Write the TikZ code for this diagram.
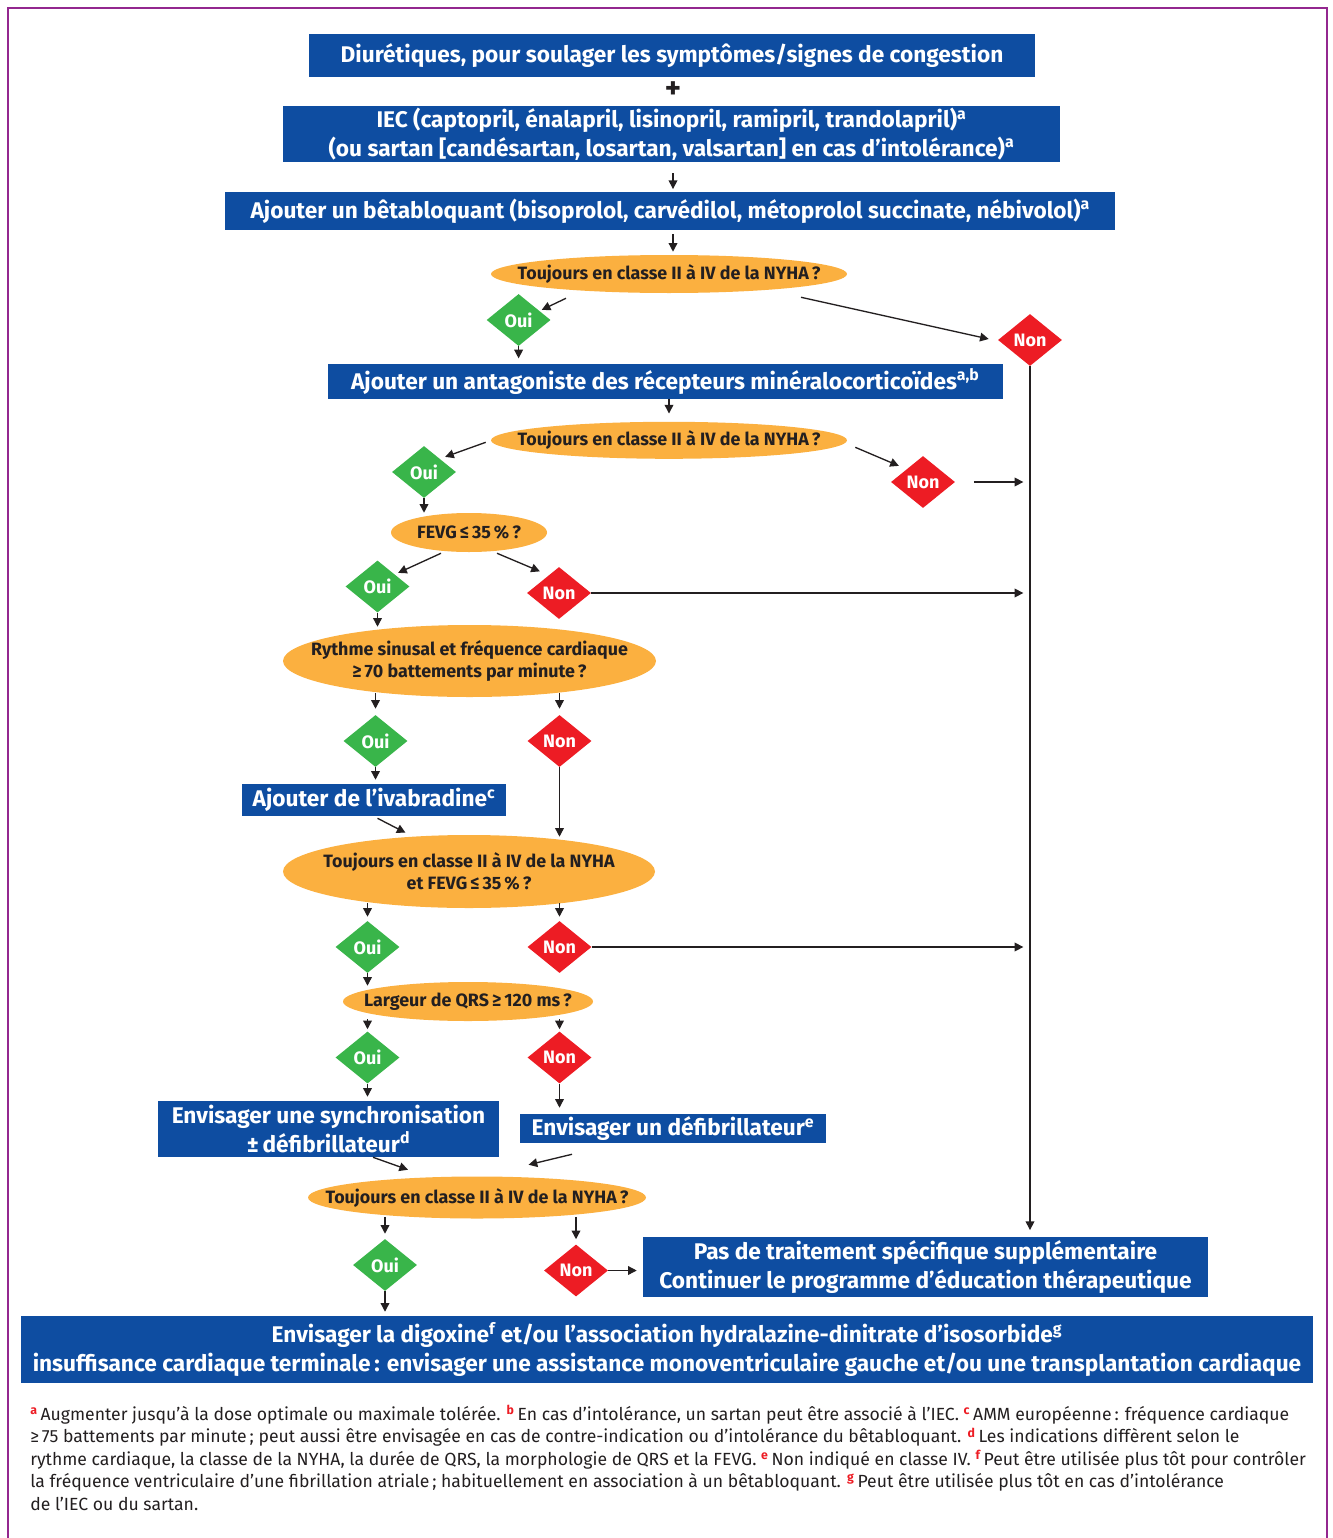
\documentclass[tikz,border=0pt]{standalone}
\usepackage{fontspec}
\setmainfont{Fira Sans}
\usetikzlibrary{shapes.geometric,arrows.meta,calc}

\definecolor{cBlue}{HTML}{0E4DA1}
\definecolor{cOrange}{HTML}{FBB040}
\definecolor{cGreen}{HTML}{39B54A}
\definecolor{cRed}{HTML}{ED1C24}
\definecolor{cInk}{HTML}{231F20}
\definecolor{cFrame}{HTML}{93278F}

\newcommand\boxfont{\fontsize{17}{21.5}\selectfont\bfseries}
\newcommand\qfont{\fontsize{13.4}{16.8}\selectfont\bfseries}
\newcommand\ynfont{\fontsize{13.5}{14}\selectfont\bfseries}
\newcommand\notefont{\fontsize{13.2}{16.8}\selectfont}
\newcommand\fnm[1]{\textcolor{cRed}{\textsuperscript{\bfseries #1}}}

\tikzset{
  stepbox/.style={rectangle, fill=cBlue, text=white, font=\boxfont, inner sep=0pt, align=center},
  question/.style={ellipse, fill=cOrange, inner sep=0pt},
  qtext/.style={text=cInk, font=\qfont, inner sep=0pt, align=center},
  yesdia/.style={diamond, fill=cGreen, text=white, font=\ynfont, inner sep=0pt, aspect=1.2,
                 minimum width=48pt, minimum height=39pt},
  nodia/.style={diamond, fill=cRed, text=white, font=\ynfont, inner sep=0pt, aspect=1.2,
                minimum width=48pt, minimum height=39pt},
  arr/.style={draw=cInk, line width=1pt, -{Triangle[length=6.5pt,width=6.5pt]}},
}

\begin{document}
\begin{tikzpicture}[x=0.75pt,y=-0.75pt]
\useasboundingbox (0,0) rectangle (1332,1538);
% open frame
\draw[cFrame, line width=1.6pt] (8,1538) -- (8,8) -- (1327,8) -- (1327,1538);

% treatment steps
\node[stepbox, minimum width=544.5pt, minimum height=32.25pt] (b1) at (672,55.5)
  {Diurétiques, pour soulager les symptômes/signes de congestion};
\node[font=\fontsize{23}{23}\selectfont\bfseries, text=cInk, inner sep=0pt] (plus) at (673,90.5) {+};
\node[stepbox, minimum width=582.75pt, minimum height=42pt] (b2) at (671.5,134)
  {IEC (captopril, énalapril, lisinopril, ramipril, trandolapril)\textsuperscript{a}\\
   (ou sartan [candésartan, losartan, valsartan] en cas d’intolérance)\textsuperscript{a}};
\node[stepbox, minimum width=667.5pt, minimum height=28.5pt] (b3) at (670.3,211)
  {Ajouter un bêtabloquant (bisoprolol, carvédilol, métoprolol succinate, nébivolol)\textsuperscript{a}};
\node[stepbox, minimum width=506.25pt, minimum height=26.25pt] (b4) at (665.3,381.5)
  {Ajouter un antagoniste des récepteurs minéralocorticoïdes\textsuperscript{a,b}};
\node[stepbox, minimum width=198pt, minimum height=24pt] (b5) at (374,800)
  {Ajouter de l’ivabradine\textsuperscript{c}};
\node[stepbox, minimum width=255.75pt, minimum height=42pt] (b6) at (328.5,1129)
  {Envisager une synchronisation\\±\,défibrillateur\textsuperscript{d}};
\node[stepbox, minimum width=229pt, minimum height=21.75pt] (b7) at (673,1128.5)
  {Envisager un défibrillateur\textsuperscript{e}};
\node[stepbox, minimum width=423.75pt, minimum height=45pt] (b8) at (925.5,1267)
  {Pas de traitement spécifique supplémentaire\\Continuer le programme d’éducation thérapeutique};
\node[stepbox, minimum width=969pt, minimum height=50.25pt] (b9) at (667,1349.5)
  {Envisager la digoxine\textsuperscript{f} et/ou l’association hydralazine-dinitrate d’isosorbide\textsuperscript{g}\\
   insuffisance cardiaque terminale\,: envisager une assistance monoventriculaire gauche et/ou une transplantation cardiaque};

% questions: the ellipse, then its text
\node[question, minimum width=267pt, minimum height=28.5pt] (e1) at (669,274) {};
\node[qtext] (e1t) at (e1) {Toujours en classe II à IV de la NYHA\,?};
\node[question, minimum width=267pt, minimum height=27.75pt] (e2) at (669,440.3) {};
\node[qtext] (e2t) at (e2) {Toujours en classe II à IV de la NYHA\,?};
\node[question, minimum width=117pt, minimum height=29.25pt] (e3) at (469,532.5) {};
\node[qtext] (e3t) at (e3) {FEVG\,≤\,35\,\%\,?};
\node[question, minimum width=279.75pt, minimum height=54pt] (e4) at (469.5,661) {};
\node[qtext] (e4t) at (e4) {Rythme sinusal et fréquence cardiaque\\≥\,70 battements par minute\,?};
\node[question, minimum width=279pt, minimum height=54.75pt] (e5) at (469,871.5) {};
\node[qtext] (e5t) at (e5) {Toujours en classe II à IV de la NYHA\\et FEVG\,≤\,35\,\%\,?};
\node[question, minimum width=187.5pt, minimum height=29.25pt] (e6) at (468,1001.5) {};
\node[qtext] (e6t) at (e6) {Largeur de QRS\,≥\,120 ms\,?};
\node[question, minimum width=253.5pt, minimum height=31.5pt] (e7) at (477,1197.5) {};
\node[qtext] (e7t) at (e7) {Toujours en classe II à IV de la NYHA\,?};

% answers
\node[yesdia] (y1) at (518.6,320) {Oui};
\node[nodia] (n1) at (1030,340) {Non};
\node[yesdia] (y2) at (424,472) {Oui};
\node[nodia] (n2) at (923,482) {Non};
\node[yesdia] (y3) at (377.5,586.5) {Oui};
\node[nodia] (n3) at (559,593) {Non};
\node[yesdia] (y4) at (375.5,741) {Oui};
\node[nodia] (n4) at (559.5,741) {Non};
\node[yesdia] (y5) at (367.5,947) {Oui};
\node[nodia] (n5) at (559.5,947) {Non};
\node[yesdia] (y6) at (367.5,1057.5) {Oui};
\node[nodia] (n6) at (559.5,1057.5) {Non};
\node[yesdia] (y7) at (385,1265) {Oui};
\node[nodia] (n7) at (576,1270.5) {Non};

% connectors
\draw[arr, shorten <=8.25pt, shorten >=2pt] (b2.south -| plus) -- (b3.north -| plus);
\draw[arr, shorten <=3pt, shorten >=2.25pt] (b3.south -| plus) -- (e1.north -| plus);
\draw[arr] ($(e1.south)+(-103,5)$) -- ($(y1.north east)+(7,3)$);
\draw[arr] ($(e1.south)+(132,4)$) -- ($(n1.west)+(-9,-1)$);
\draw[arr, shorten >=4pt] (y1.south) -- (y1.south |- b4.north);
\draw[arr, shorten >=6pt] (b4.south -| e2.north) -- (e2.north);
\draw[arr] ($(e2.west)+(-5,2)$) -- ($(y2.north east)+(5,-2)$);
\draw[arr] ($(e2.east)+(8,7)$) -- ($(n2.north west)+(-8,-3)$);
\draw[arr, shorten <=14pt, shorten >=5pt] (n2.east) -- (n2.east -| n1.south);
\draw[arr, shorten >=5pt] (n1.south) -- (n1.south |- b8.north);
\draw[arr] (y2.south) -- (y2.south |- e3.north);
\draw[arr] ($(e3.south)+(-28,1)$) -- ($(y3.north east)+(4.5,-0.5)$);
\draw[arr] ($(e3.south)+(28,1)$) -- ($(n3.north west)+(-3,-8.5)$);
\draw[arr, shorten >=5pt] (n3.east) -- (n3.east -| n1.south);
\draw[arr] (y3.south) -- ($(y3.south |- e4.north)+(0,2)$);
\draw[arr] ($(y4.north |- e4.south)+(0,-4)$) -- ($(y4.north)+(0,-6)$);
\draw[arr] ($(n4.north |- e4.south)+(0,-4)$) -- ($(n4.north)+(0,-6)$);
\draw[arr, shorten >=3pt] (y4.south) -- (y4.south |- b5.north);
\draw[arr] (n4.south) -- ($(n4.south |- e5.north)+(0,2)$);
\draw[arr] ($(b5.south)+(3.5,2)$) -- ($(e5.north)+(-63.5,-2)$);
\draw[arr] ($(y5.north |- e5.south)+(0,-5)$) -- ($(y5.north)+(0,-4)$);
\draw[arr] ($(n5.north |- e5.south)+(0,-5)$) -- ($(n5.north)+(0,-4)$);
\draw[arr, shorten >=5pt] (n5.east) -- (n5.east -| n1.south);
\draw[arr] (y5.south) -- ($(y5.south |- e6.north)+(0,4)$);
\draw[arr] ($(y6.north |- e6.south)+(0,-2)$) -- ($(y6.north)+(0,-2)$);
\draw[arr] ($(n6.north |- e6.south)+(0,-2)$) -- ($(n6.north)+(0,-2)$);
\draw[arr, shorten >=3pt] (y6.south) -- (y6.south |- b6.north);
\draw[arr, shorten >=4.5pt] (n6.south) -- (n6.south |- b7.north);
\draw[arr] ($(b6.south)+(44.5,0)$) -- ($(e7.north)+(-69,-6.5)$);
\draw[arr] ($(b7.south)+(-101,11)$) -- ($(e7.north)+(51.6,-11.5)$);
\draw[arr] ($(y7.north |- e7.south)+(0,-2)$) -- ($(y7.north)+(0,-5)$);
\draw[arr] ($(n7.north |- e7.south)+(0,-2)$) -- ($(n7.north)+(0,-5)$);
\draw[arr, shorten >=4.5pt] (n7.east) -- (n7.east -| b8.west);
\draw[arr, shorten >=3pt] (y7.south) -- (y7.south |- b9.north);

% notes
\node[anchor=north west, align=left, inner sep=0pt, font=\notefont, text=cInk] (note) at (30,1405)
  {\fnm{a}\,Augmenter jusqu’à la dose optimale ou maximale tolérée. \fnm{b}\,En cas d’intolérance, un sartan peut être associé à l’IEC. \fnm{c}\,AMM européenne\,: fréquence cardiaque\\
   ≥\,75 battements par minute\,; peut aussi être envisagée en cas de contre-indication ou d’intolérance du bêtabloquant. \fnm{d}\,Les indications diffèrent selon le\\
   rythme cardiaque, la classe de la NYHA, la durée de QRS, la morphologie de QRS et la FEVG. \fnm{e}\,Non indiqué en classe IV. \fnm{f}\,Peut être utilisée plus tôt pour contrôler\\
   la fréquence ventriculaire d’une fibrillation atriale\,; habituellement en association à un bêtabloquant. \fnm{g}\,Peut être utilisée plus tôt en cas d’intolérance\\
   de l’IEC ou du sartan.};
\end{tikzpicture}
\end{document}
